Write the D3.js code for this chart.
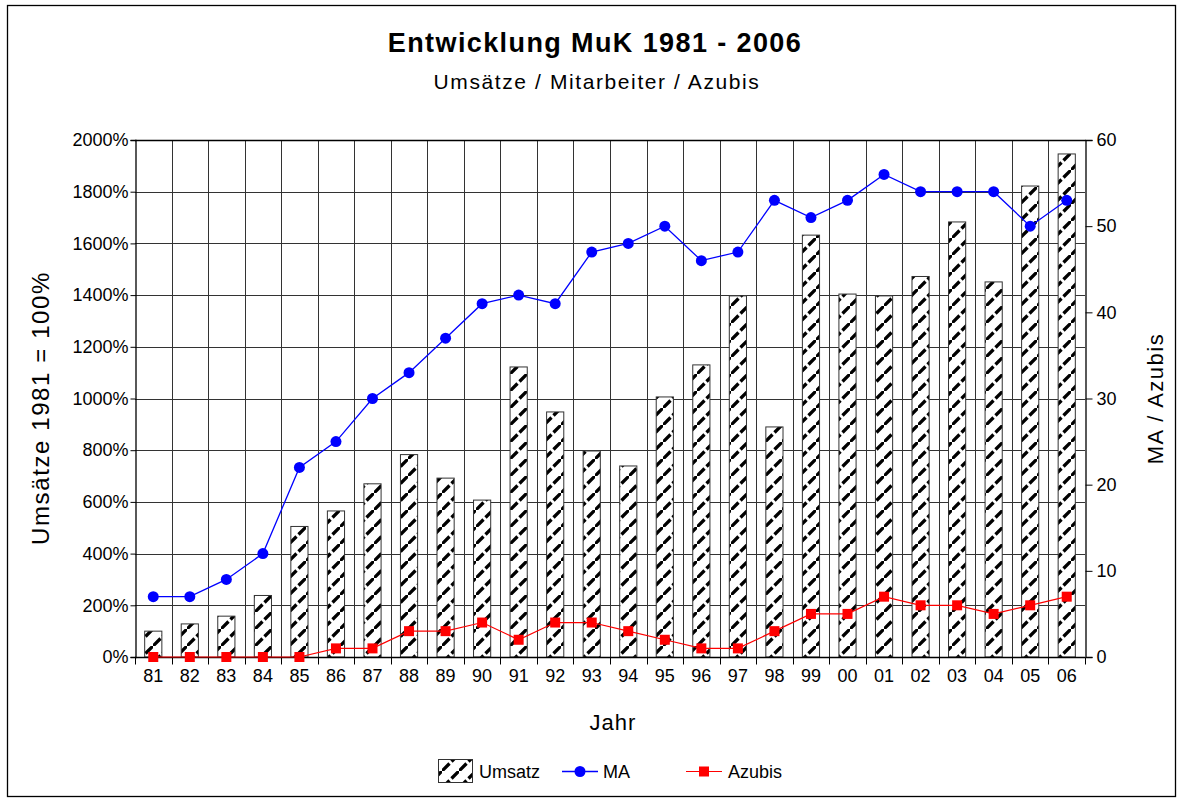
<!DOCTYPE html>
<html>
<head>
<meta charset="utf-8">
<script src="https://cdn.jsdelivr.net/npm/d3@7"></script>
<style>
  body { margin: 0; background: #fff; }
  svg { display: block; font-family: "Liberation Sans", Arial, sans-serif; }
  .tick-label { font-family: "Liberation Sans Narrow", "Arial Narrow", "Liberation Sans", sans-serif; font-size: 18px; fill: #000; }
</style>
</head>
<body>
<svg id="chart" width="1180" height="801"></svg>
<script>
// data
var years = ['81','82','83','84','85','86','87','88','89','90','91','92','93','94','95','96','97','98','99','00','01','02','03','04','05','06'];
var umsatz = [100,128,158,238,505,565,670,783,692,607,1122,948,797,739,1006,1130,1397,890,1632,1404,1397,1472,1683,1451,1822,1946];
var ma = [7,7,9,12,22,25,30,33,37,41,42,41,47,48,50,46,47,53,51,53,56,54,54,54,50,53];
var azubis = [0,0,0,0,0,1,1,3,3,4,2,4,4,3,2,1,1,3,5,5,7,6,6,5,6,7];
var leftTicks = [0,200,400,600,800,1000,1200,1400,1600,1800,2000];
var rightTicks = [0,10,20,30,40,50,60];

var svg = d3.select('#chart');
var pLeft = 135, pRight = 1085, pTop = 140, pBottom = 657;

var x = d3.scaleBand().domain(years).range([pLeft, pRight]);
var yL = d3.scaleLinear().domain([0, 2000]).range([pBottom, pTop]);
var yR = d3.scaleLinear().domain([0, 60]).range([pBottom, pTop]);
var barW = x.bandwidth() * 0.47;
var cx = function (d, i) { return x(years[i]) + x.bandwidth() / 2; };

// hatch pattern (dashed upward diagonal)
var defs = svg.append('defs');
var pat = defs.append('pattern')
  .attr('id', 'hatch')
  .attr('patternUnits', 'userSpaceOnUse')
  .attr('width', 17).attr('height', 17);
pat.append('rect').attr('width', 17).attr('height', 17).attr('fill', '#fff');
pat.append('path')
  .attr('d', 'M-1,18 L7.5,9.5 M9.5,7.5 L18,-1')
  .attr('stroke', '#000').attr('stroke-width', 3.3)
  .attr('stroke-linecap', 'butt');

// outer frame
svg.append('rect')
  .attr('x', 7.5).attr('y', 5.5).attr('width', 1168).attr('height', 791)
  .attr('fill', 'none').attr('stroke', '#000').attr('stroke-width', 1.3);

// titles
svg.append('text')
  .attr('x', 595).attr('y', 52)
  .attr('text-anchor', 'middle')
  .attr('font-size', 27).attr('font-weight', 'bold')
  .attr('letter-spacing', 1.4)
  .text('Entwicklung MuK 1981 - 2006');
svg.append('text')
  .attr('x', 597).attr('y', 89)
  .attr('text-anchor', 'middle')
  .attr('font-size', 21)
  .attr('letter-spacing', 1.6)
  .text('Umsätze / Mitarbeiter / Azubis');

// grid
var grid = svg.append('g').attr('stroke', '#333').attr('stroke-width', 1);
grid.selectAll('line.h').data(leftTicks.slice(1))
  .enter().append('line')
  .attr('x1', pLeft).attr('x2', pRight)
  .attr('y1', function (d) { return Math.round(yL(d)) + 0.5; })
  .attr('y2', function (d) { return Math.round(yL(d)) + 0.5; });
grid.selectAll('line.v').data(years.slice(1))
  .enter().append('line')
  .attr('x1', function (d) { return Math.round(x(d)) + 0.5; })
  .attr('x2', function (d) { return Math.round(x(d)) + 0.5; })
  .attr('y1', pTop).attr('y2', pBottom);

// bars
svg.append('g').selectAll('rect').data(umsatz)
  .enter().append('rect')
  .attr('x', function (d, i) { return x(years[i]) + (x.bandwidth() - barW) / 2; })
  .attr('y', function (d) { return yL(d); })
  .attr('width', barW)
  .attr('height', function (d) { return pBottom - yL(d); })
  .attr('fill', 'url(#hatch)')
  .attr('stroke', '#333').attr('stroke-width', 1);

// axes
var leftAxis = svg.append('g')
  .attr('transform', 'translate(' + (pLeft + 0.5) + ',0)')
  .call(d3.axisLeft(yL).tickValues(leftTicks).tickSize(5).tickPadding(2)
    .tickFormat(function (d) { return d + '%'; }));
var rightAxis = svg.append('g')
  .attr('transform', 'translate(' + (pRight + 0.5) + ',0)')
  .call(d3.axisRight(yR).tickValues(rightTicks).tickSize(7).tickPadding(4));
var bottomAxis = svg.append('g')
  .attr('transform', 'translate(0,' + (pBottom + 0.5) + ')')
  .call(d3.axisBottom(x).tickSize(0).tickPadding(12));
// category separator ticks under the x axis
var seps = years.map(function (d) { return x(d); }).concat([pRight]);
bottomAxis.selectAll('line.sep').data(seps)
  .enter().append('line')
  .attr('class', 'sep')
  .attr('x1', function (d) { return Math.round(d) + 0.5; })
  .attr('x2', function (d) { return Math.round(d) + 0.5; })
  .attr('y1', 0).attr('y2', 7)
  .attr('stroke', '#000');

[leftAxis, rightAxis, bottomAxis].forEach(function (a) {
  a.select('.domain').attr('stroke', '#000').attr('stroke-width', 1.3);
  a.selectAll('.tick line').attr('stroke', '#000');
  a.selectAll('.tick text').attr('class', 'tick-label').attr('font-size', null).attr('font-family', null);
});
bottomAxis.select('.domain').attr('d', 'M' + pLeft + ',0H' + pRight);
// top border of the plot
svg.append('line')
  .attr('x1', pLeft).attr('x2', pRight + 1)
  .attr('y1', pTop + 0.5).attr('y2', pTop + 0.5)
  .attr('stroke', '#000').attr('stroke-width', 1.3);

// MA line
var maLine = d3.line().x(cx).y(function (d) { return yR(d); });
svg.append('path').datum(ma)
  .attr('d', maLine)
  .attr('fill', 'none').attr('stroke', '#0000ff').attr('stroke-width', 1.3);
svg.append('g').selectAll('circle').data(ma)
  .enter().append('circle')
  .attr('cx', cx)
  .attr('cy', function (d) { return yR(d); })
  .attr('r', 5.5)
  .attr('fill', '#0000ff');

// Azubis line
svg.append('path').datum(azubis)
  .attr('d', maLine)
  .attr('fill', 'none').attr('stroke', '#ff0000').attr('stroke-width', 1.2);
svg.append('g').selectAll('rect').data(azubis)
  .enter().append('rect')
  .attr('x', function (d, i) { return cx(d, i) - 5; })
  .attr('y', function (d) { return yR(d) - 5; })
  .attr('width', 10).attr('height', 10)
  .attr('fill', '#ff0000');

// axis titles
svg.append('text')
  .attr('transform', 'translate(49,408) rotate(-90)')
  .attr('text-anchor', 'middle')
  .attr('font-size', 24).attr('letter-spacing', 1.6)
  .text('Umsätze 1981 = 100%');
svg.append('text')
  .attr('transform', 'translate(1163,' + ((pTop + pBottom) / 2) + ') rotate(-90)')
  .attr('text-anchor', 'middle')
  .attr('font-size', 22).attr('letter-spacing', 1.5)
  .text('MA / Azubis');
svg.append('text')
  .attr('x', 613).attr('y', 730)
  .attr('text-anchor', 'middle')
  .attr('font-size', 22).attr('letter-spacing', 1)
  .text('Jahr');

// legend
var lg = svg.append('g').attr('transform', 'translate(0,771)');
lg.append('rect')
  .attr('x', 438.5).attr('y', -11.5).attr('width', 34).attr('height', 23)
  .attr('fill', 'url(#hatch)').attr('stroke', '#333');
lg.append('text').attr('x', 479).attr('y', 7).attr('class', 'tick-label').text('Umsatz');
lg.append('line').attr('x1', 562).attr('x2', 598).attr('y1', 0.5).attr('y2', 0.5)
  .attr('stroke', '#0000ff').attr('stroke-width', 1.3);
lg.append('circle').attr('cx', 580).attr('cy', 0.5).attr('r', 5.5).attr('fill', '#0000ff');
lg.append('text').attr('x', 603).attr('y', 7).attr('class', 'tick-label').text('MA');
lg.append('line').attr('x1', 686).attr('x2', 722).attr('y1', 0.5).attr('y2', 0.5)
  .attr('stroke', '#ff0000').attr('stroke-width', 1.2);
lg.append('rect').attr('x', 699).attr('y', -4.5).attr('width', 10).attr('height', 10).attr('fill', '#ff0000');
lg.append('text').attr('x', 728).attr('y', 7).attr('class', 'tick-label').text('Azubis');
</script>
</body>
</html>
